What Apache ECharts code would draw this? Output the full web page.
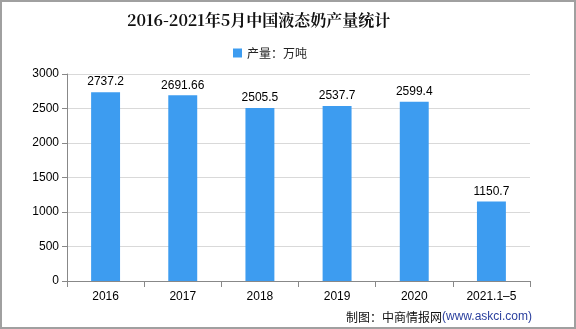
<!DOCTYPE html>
<html><head><meta charset="utf-8">
<script src="https://cdn.jsdelivr.net/npm/echarts@6/dist/echarts.min.js"></script>
<style>html,body{margin:0;padding:0;background:#fff}#c{width:576px;height:329px;box-sizing:border-box;border:2px solid #a0a0a0}</style>
</head><body><div id="c"></div>
<script>
const categories = ['2016','2017','2018','2019','2020','2021.1-5'];
const values = [2737.2, 2691.66, 2505.5, 2537.7, 2599.4, 1150.7];
const valueLabels = ['2737.2','2691.66','2505.5','2537.7','2599.4','1150.7'];
const yTicks = [0, 500, 1000, 1500, 2000, 2500, 3000];
const chart = echarts.init(document.getElementById('c'));
const font = '"Noto Sans CJK SC", sans-serif';
chart.setOption({
  animation: false,
  title: {
    text: '2016-2021年5月中国液态奶产量统计',
    left: 120, top: 5,
    textStyle: {fontSize: 16, fontWeight: 'bold', color: '#111', fontFamily: '"Noto Serif CJK SC","Noto Sans CJK SC", serif'}
  },
  legend: {
    top: 40, left: 226, itemWidth: 9, itemHeight: 9, itemGap: 3, icon: 'rect',
    textStyle: {fontSize: 12, color: '#222', fontFamily: font},
    data: ['产量：万吨']
  },
  grid: {left: 65, right: 44, top: 72, bottom: 46},
  xAxis: {
    type: 'category', data: categories,
    axisLine: {lineStyle: {color: '#888'}},
    axisTick: {show: true, alignWithLabel: false, length: 6, lineStyle: {color: '#888'}},
    axisLabel: {color: '#000', fontSize: 12, margin: 10, fontFamily: 'Liberation Sans, sans-serif',
      formatter: v => v.replace('-', '–')}
  },
  yAxis: {
    type: 'value', min: 0, max: 3000, interval: 500,
    axisLine: {show: true, lineStyle: {color: '#888'}},
    axisTick: {show: true, length: 5, lineStyle: {color: '#888'}},
    splitLine: {lineStyle: {color: '#d9d9d9'}},
    axisLabel: {color: '#000', fontSize: 12, margin: 8, fontFamily: 'Liberation Sans, sans-serif',
      formatter: v => String(v)}
  },
  series: [{
    name: '产量：万吨', type: 'bar', data: values, barWidth: '37.5%',
    itemStyle: {color: '#3d9cf0'},
    label: {show: true, position: 'top', distance: 4, color: '#000', fontSize: 12,
      fontFamily: 'Liberation Sans, sans-serif', formatter: p => valueLabels[p.dataIndex]}
  }],
  graphic: [{
    type: 'text', right: 42, bottom: 4,
    style: {
      text: '{a|制图：中商情报网}{b|(www.askci.com)}',
      rich: {
        a: {fontSize: 12, fill: '#111', fontFamily: font},
        b: {fontSize: 12, fill: '#2a3f9e', fontFamily: 'Liberation Sans, sans-serif'}
      }
    }
  }]
});
</script></body></html>
